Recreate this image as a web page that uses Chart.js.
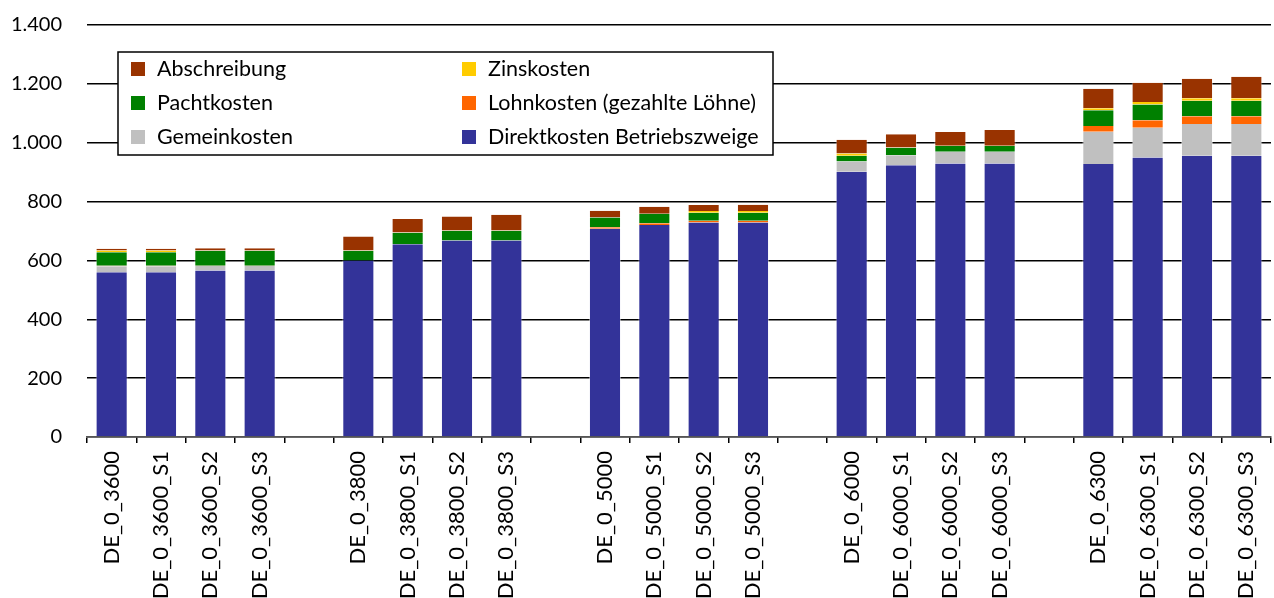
<!DOCTYPE html>
<html>
<head>
<meta charset="utf-8">
<script src="https://cdn.jsdelivr.net/npm/chart.js@4.4.1/dist/chart.umd.min.js"></script>
<style>
  html, body { margin: 0; padding: 0; background: #fff; overflow: hidden; }
  #wrap { width: 1274px; height: 598px; }
</style>
</head>
<body>
<div id="wrap"><canvas id="c" width="1274" height="598"></canvas></div>
<script>
// Kategorien (leere Einträge = Abstand zwischen den Gruppen)
const categories = [
  'DE_0_3600', 'DE_0_3600_S1', 'DE_0_3600_S2', 'DE_0_3600_S3', '',
  'DE_0_3800', 'DE_0_3800_S1', 'DE_0_3800_S2', 'DE_0_3800_S3', '',
  'DE_0_5000', 'DE_0_5000_S1', 'DE_0_5000_S2', 'DE_0_5000_S3', '',
  'DE_0_6000', 'DE_0_6000_S1', 'DE_0_6000_S2', 'DE_0_6000_S3', '',
  'DE_0_6300', 'DE_0_6300_S1', 'DE_0_6300_S2', 'DE_0_6300_S3'
];

const direktkosten = [560, 560, 566, 566, null, 600, 655, 668, 668, null, 708, 720, 729, 729, null, 901, 923, 929, 929, null, 928, 950, 956, 956];
const gemeinkosten = [20, 20, 15, 15, null, 0, 0, 0, 0, null, 0, 0, 0, 0, null, 35, 34, 40, 40, null, 109, 101, 108, 108];
const lohnkosten   = [2, 2, 1, 1, null, 0, 0, 0, 0, null, 5, 6, 6, 6, null, 0, 0, 0, 0, null, 20, 25, 26, 26];
const pachtkosten  = [46, 46, 51, 51, null, 33, 39, 33, 33, null, 33, 33, 27, 27, null, 20, 26, 20, 20, null, 53, 54, 53, 53];
const zinskosten   = [6, 6, 1, 1, null, 1, 1, 1, 1, null, 0, 0, 6, 6, null, 7, 1, 1, 1, null, 7, 8, 8, 8];
const abschreibung = [6, 6, 7, 7, null, 47, 46, 47, 53, null, 23, 23, 20, 21, null, 47, 45, 46, 53, null, 66, 66, 66, 73];

const yTicks = [0, 200, 400, 600, 800, 1000, 1200, 1400];

const FONT = 'Lato';

// Legende im Diagramm (zwei Spalten, Reihenfolge umgekehrt zum Stapel)
const legendBox = {
  id: 'legendBox',
  afterDraw(chart) {
    const ctx = chart.ctx;
    const items = chart.data.datasets.slice().reverse();
    const x0 = 118, y0 = 52, w = 655, h = 103;
    ctx.save();
    ctx.fillStyle = '#fff';
    ctx.fillRect(x0, y0, w, h);
    ctx.lineWidth = 1.5;
    ctx.strokeStyle = '#000';
    ctx.strokeRect(x0, y0, w, h);
    ctx.font = '21.5px ' + FONT;
    ctx.textBaseline = 'middle';
    items.forEach((ds, i) => {
      const col = i % 2;
      const row = Math.floor(i / 2);
      const x = x0 + 13 + col * 331;
      const y = y0 + 17 + row * 34;
      ctx.fillStyle = ds.backgroundColor;
      ctx.fillRect(x, y - 7, 14, 14);
      ctx.fillStyle = '#000';
      ctx.fillText(ds.label, x + 26, y);
    });
    ctx.restore();
  }
};

function series(label, data, color) {
  return {
    label: label,
    data: data,
    backgroundColor: color,
    borderColor: 'rgba(255,255,255,0.45)',
    borderWidth: { left: 1, right: 1, top: 0, bottom: 0 },
    borderSkipped: false,
    barPercentage: 0.65,
    categoryPercentage: 1.0
  };
}

new Chart(document.getElementById('c'), {
  type: 'bar',
  data: {
    labels: categories,
    datasets: [
      series('Direktkosten Betriebszweige', direktkosten, '#333399'),
      series('Gemeinkosten', gemeinkosten, '#C0C0C0'),
      series('Lohnkosten (gezahlte Löhne)', lohnkosten, '#FF6600'),
      series('Pachtkosten', pachtkosten, '#008000'),
      series('Zinskosten', zinskosten, '#FFCC00'),
      series('Abschreibung', abschreibung, '#993300')
    ]
  },
  options: {
    responsive: false,
    animation: false,
    locale: 'de-DE',
    layout: { padding: { top: 25, right: 3, left: 0, bottom: 0 } },
    plugins: {
      legend: { display: false },
      tooltip: { enabled: false }
    },
    scales: {
      x: {
        stacked: true,
        grid: {
          display: true,
          offset: true,
          drawOnChartArea: false,
          drawTicks: true,
          tickLength: 6,
          color: '#000',
          lineWidth: 1.5
        },
        border: { display: true, color: '#555', width: 1.5 },
        ticks: {
          autoSkip: false,
          maxRotation: 90,
          minRotation: 90,
          padding: 8,
          color: '#000',
          font: { family: FONT, size: 22 }
        },
        afterFit(scale) {
          scale.height = 161;
          scale.paddingLeft = 0;
          scale.paddingRight = 0;
        }
      },
      y: {
        stacked: true,
        min: 0,
        max: 1400,
        afterBuildTicks(scale) { scale.ticks = yTicks.map(v => ({ value: v })); },
        grid: {
          color: '#000',
          lineWidth: 1.5,
          drawTicks: false
        },
        border: { display: false },
        ticks: {
          padding: 25,
          color: '#000',
          font: { family: FONT, size: 20 }
        },
        afterFit(scale) {
          scale.width = 87;
          scale.paddingTop = 0;
          scale.paddingBottom = 0;
        }
      }
    }
  },
  plugins: [legendBox]
});
</script>
</body>
</html>
